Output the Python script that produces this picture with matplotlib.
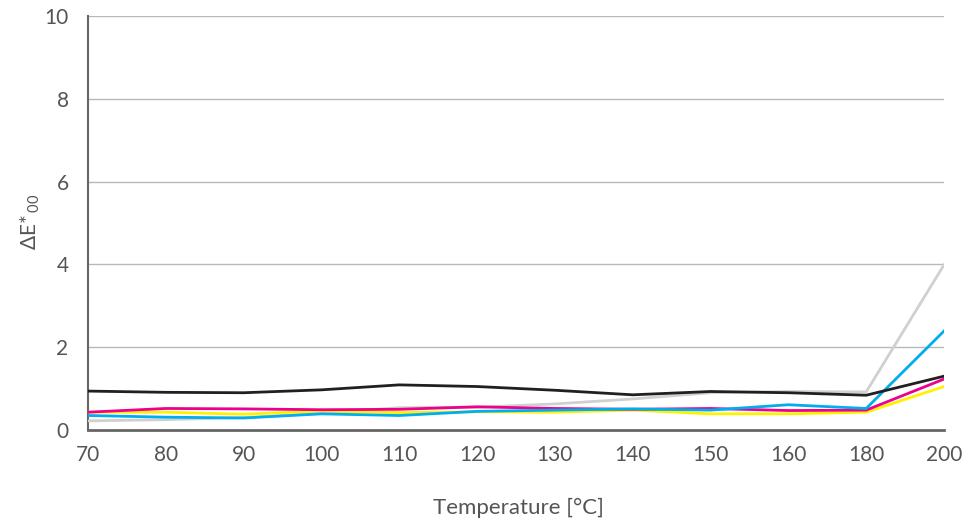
import matplotlib
matplotlib.use('Agg')
import matplotlib.pyplot as plt
import numpy as np

temps = ['70', '80', '90', '100', '110', '120', '130', '140', '150', '160', '180', '200']
black = [0.94, 0.91, 0.90, 0.97, 1.09, 1.05, 0.96, 0.85, 0.93, 0.90, 0.84, 1.30]
gray = [0.22, 0.25, 0.30, 0.40, 0.54, 0.55, 0.63, 0.75, 0.90, 0.93, 0.92, 3.99]
cyan = [0.35, 0.31, 0.29, 0.39, 0.35, 0.45, 0.48, 0.51, 0.48, 0.61, 0.52, 2.39]
magenta = [0.43, 0.52, 0.51, 0.49, 0.50, 0.56, 0.52, 0.50, 0.52, 0.47, 0.48, 1.23]
yellow = [0.43, 0.43, 0.38, 0.46, 0.42, 0.44, 0.43, 0.48, 0.39, 0.39, 0.43, 1.05]

plt.rcParams['font.family'] = ['Lato', 'DejaVu Sans']
plt.rcParams['mathtext.fontset'] = 'custom'
plt.rcParams['mathtext.rm'] = 'Lato'
txt = '#555555'

fig = plt.figure(figsize=(9.68, 5.27), dpi=100)
ax = fig.add_axes([88 / 968, 1 - 430 / 527, (944 - 88) / 968, (430 - 16) / 527])

x = np.arange(len(temps))
ax.plot(x, gray, color='#d0d0d0', lw=2, zorder=3)
ax.plot(x, yellow, color='#fff200', lw=2, zorder=4)
ax.plot(x, magenta, color='#ec008c', lw=2, zorder=5)
ax.plot(x, cyan, color='#00aeef', lw=2, zorder=6)
ax.plot(x, black, color='#231f20', lw=2, zorder=7)

ax.set_xlim(0, len(temps) - 1)
ax.set_ylim(0, 10)
ax.set_yticks([0, 2, 4, 6, 8, 10])
ax.set_xticks(x)
ax.set_xticklabels(temps)
ax.yaxis.grid(True, color='#b8b8b8', lw=1)
ax.set_axisbelow(True)
for s in ['top', 'right']:
    ax.spines[s].set_visible(False)
ax.spines['left'].set_color('#666666')
ax.spines['left'].set_linewidth(1.5)
ax.spines['bottom'].set_color('#666666')
ax.spines['bottom'].set_linewidth(2)
ax.tick_params(length=0, labelsize=15, colors=txt, pad=11)
ax.tick_params(axis='y', pad=14)

fig.text(30 / 968, 1 - 222 / 527, 'ΔE*$_{\\,00}$', rotation=90, fontsize=15,
         color=txt, ha='center', va='center')
fig.text(518 / 968, 1 - 508 / 527, 'Temperature [°C]', fontsize=16,
         color=txt, ha='center', va='center')

fig.savefig('out.png', dpi=100)
